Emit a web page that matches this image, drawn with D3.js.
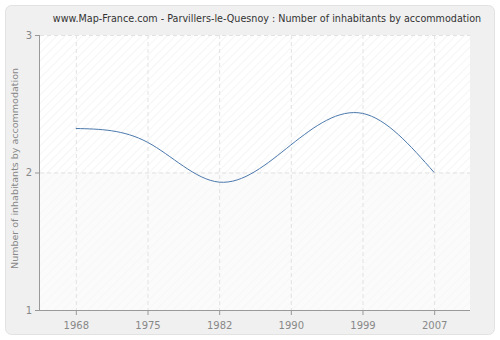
<!DOCTYPE html>
<html>
<head>
<meta charset="utf-8">
<script src="https://cdn.jsdelivr.net/npm/d3@7"></script>
<style>
  body { margin: 0; background: #fff; }
  svg text { font-family: "DejaVu Sans", Verdana, sans-serif; }
</style>
</head>
<body>
<div id="app"></div>
<script>
// chart data
const years = ["1968", "1975", "1982", "1990", "1999", "2007"];
const values = [2.32, 2.22, 1.93, 2.2, 2.43, 2.0];
const yTicks = [1, 2, 3];

const width = 500, height = 340;
const margin = { top: 35, right: 30, bottom: 30, left: 40 };

const svg = d3.select("#app").append("svg")
  .attr("width", width)
  .attr("height", height);

// hatch patterns for the plot background
const defs = svg.append("defs");
const hatch = defs.append("pattern")
  .attr("id", "hatch")
  .attr("patternUnits", "userSpaceOnUse")
  .attr("width", 6).attr("height", 6)
  .attr("patternTransform", "rotate(45)");
hatch.append("rect").attr("width", 6).attr("height", 6).attr("fill", "#ffffff");
hatch.append("line").attr("x1", 0).attr("y1", 0).attr("x2", 0).attr("y2", 6)
  .attr("stroke", "#ececec").attr("stroke-width", 1);

const hatchLight = defs.append("pattern")
  .attr("id", "hatch-light")
  .attr("patternUnits", "userSpaceOnUse")
  .attr("width", 6).attr("height", 6)
  .attr("patternTransform", "rotate(45)");
hatchLight.append("rect").attr("width", 6).attr("height", 6).attr("fill", "#fbfbfb");
hatchLight.append("line").attr("x1", 0).attr("y1", 0).attr("x2", 0).attr("y2", 6)
  .attr("stroke", "#f3f3f3").attr("stroke-width", 1);

// outer panel
svg.append("rect")
  .attr("x", 5.5).attr("y", 5.5)
  .attr("width", width - 11).attr("height", height - 11)
  .attr("rx", 6)
  .attr("fill", "#f0f0f0")
  .attr("stroke", "#e2e2e2");

const innerW = width - margin.left - margin.right;
const innerH = height - margin.top - margin.bottom;

const x = d3.scalePoint().domain(years).range([0, innerW]).padding(0.5);
const y = d3.scaleLinear().domain([1, 3]).range([innerH, 0]);

const g = svg.append("g")
  .attr("transform", `translate(${margin.left},${margin.top})`);

// plot background: upper part hatched, lower part lighter
g.append("rect")
  .attr("x", 0).attr("y", 0)
  .attr("width", innerW).attr("height", y(2))
  .attr("fill", "url(#hatch)");
g.append("rect")
  .attr("x", 0).attr("y", y(2))
  .attr("width", innerW).attr("height", innerH - y(2))
  .attr("fill", "url(#hatch-light)");

// grid lines
g.append("g").selectAll("line")
  .data(years)
  .join("line")
  .attr("x1", d => x(d) + 0.5).attr("x2", d => x(d) + 0.5)
  .attr("y1", 0).attr("y2", innerH)
  .attr("stroke", "#e2e2e2")
  .attr("stroke-dasharray", "4,3");
g.append("g").selectAll("line")
  .data(yTicks.slice(1))
  .join("line")
  .attr("x1", 0).attr("x2", innerW)
  .attr("y1", d => y(d) + 0.5).attr("y2", d => y(d) + 0.5)
  .attr("stroke", "#e2e2e2")
  .attr("stroke-dasharray", "4,3");

// axes
const xAxis = g.append("g")
  .attr("transform", `translate(0,${innerH})`)
  .call(d3.axisBottom(x).tickSize(5).tickSizeOuter(0));
const yAxis = g.append("g")
  .call(d3.axisLeft(y).tickValues(yTicks).tickFormat(d3.format("d")).tickSize(5).tickSizeOuter(0));

[xAxis, yAxis].forEach(a => {
  a.select(".domain").attr("stroke", "#999");
  a.selectAll(".tick line").attr("stroke", "#999");
  a.selectAll(".tick text")
    .attr("fill", "#888")
    .style("font-size", "10px");
});
xAxis.select(".domain").attr("d", `M0,0.5H${innerW}`);
yAxis.select(".domain").attr("d", `M-0.5,0V${innerH}`);
xAxis.selectAll(".tick text").attr("dy", "1.1em");

// the line
const line = d3.line()
  .x((d, i) => x(years[i]))
  .y(d => y(d))
  .curve(d3.curveNatural);

g.append("path")
  .datum(values)
  .attr("fill", "none")
  .attr("stroke", "#4b79ad")
  .attr("stroke-width", 1)
  .attr("d", line);

// title
svg.append("text")
  .attr("x", 267)
  .attr("y", 22)
  .attr("text-anchor", "middle")
  .attr("fill", "#333")
  .style("font-size", "9.6px")
  .text("www.Map-France.com - Parvillers-le-Quesnoy : Number of inhabitants by accommodation");

// y axis label
svg.append("text")
  .attr("transform", `translate(18,${margin.top + innerH / 2 - 4}) rotate(-90)`)
  .attr("text-anchor", "middle")
  .attr("fill", "#888")
  .style("font-size", "9.5px")
  .text("Number of inhabitants by accommodation");
</script>
</body>
</html>
